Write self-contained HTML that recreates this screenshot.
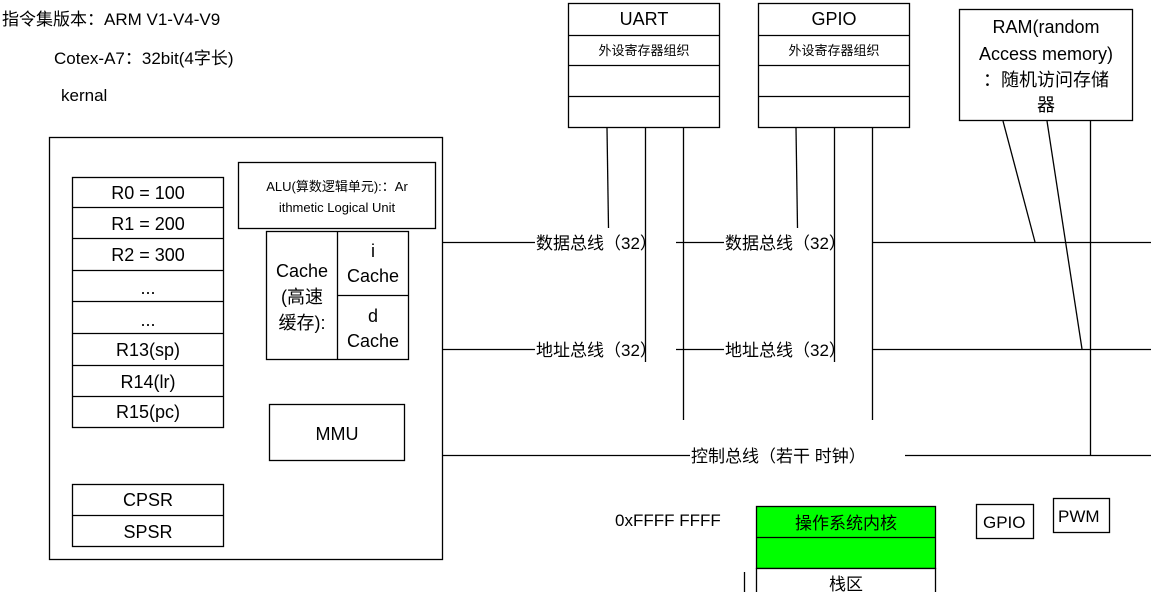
<!DOCTYPE html>
<html><head><meta charset="utf-8"><style>
html,body{margin:0;padding:0;background:#fff;}
svg{display:block;}
text{font-family:"Liberation Sans","Noto Sans CJK SC",sans-serif;fill:#000;}
</style></head><body>
<svg width="1151" height="592" viewBox="0 0 1151 592" xmlns="http://www.w3.org/2000/svg">
<g font-size="17">
<text x="2" y="25">指令集版本：ARM V1-V4-V9</text>
<text x="54" y="64">Cotex-A7：32bit(4字长)</text>
<text x="61" y="101">kernal</text>
</g>
<g fill="none" stroke="#000" stroke-width="1.3">
<rect x="49.5" y="137.5" width="393" height="422"/>
<rect x="72.5" y="177.5" width="151" height="250"/>
<line x1="72" y1="207.5" x2="224" y2="207.5"/>
<line x1="72" y1="238.5" x2="224" y2="238.5"/>
<line x1="72" y1="270.5" x2="224" y2="270.5"/>
<line x1="72" y1="301.5" x2="224" y2="301.5"/>
<line x1="72" y1="333.5" x2="224" y2="333.5"/>
<line x1="72" y1="365.5" x2="224" y2="365.5"/>
<line x1="72" y1="396.5" x2="224" y2="396.5"/>
<rect x="238.5" y="162.5" width="197" height="66"/>
<rect x="266.5" y="231.5" width="142" height="128"/>
<line x1="337.5" y1="231" x2="337.5" y2="360"/>
<line x1="337" y1="295.5" x2="409" y2="295.5"/>
<rect x="269.5" y="404.5" width="135" height="56"/>
<rect x="72.5" y="484.5" width="151" height="62"/>
<line x1="72" y1="515.5" x2="224" y2="515.5"/>
<rect x="568.5" y="3.5" width="151" height="124"/>
<line x1="568" y1="35.5" x2="720" y2="35.5"/>
<line x1="568" y1="65.5" x2="720" y2="65.5"/>
<line x1="568" y1="96.5" x2="720" y2="96.5"/>
<rect x="758.5" y="3.5" width="151" height="124"/>
<line x1="758" y1="35.5" x2="910" y2="35.5"/>
<line x1="758" y1="65.5" x2="910" y2="65.5"/>
<line x1="758" y1="96.5" x2="910" y2="96.5"/>
<rect x="959.5" y="9.5" width="173" height="111"/>
<!-- buses -->
<line x1="443" y1="242.5" x2="535" y2="242.5"/>
<line x1="676" y1="242.5" x2="724" y2="242.5"/>
<line x1="873" y1="242.5" x2="1151" y2="242.5"/>
<line x1="443" y1="349.5" x2="535" y2="349.5"/>
<line x1="676" y1="349.5" x2="724" y2="349.5"/>
<line x1="873" y1="349.5" x2="1151" y2="349.5"/>
<line x1="443" y1="455.5" x2="690" y2="455.5"/>
<line x1="905" y1="455.5" x2="1151" y2="455.5"/>
<line x1="607" y1="128" x2="608.5" y2="228"/>
<line x1="645.5" y1="128" x2="645.5" y2="362"/>
<line x1="683.5" y1="128" x2="683.5" y2="420"/>
<line x1="796" y1="128" x2="797.5" y2="228"/>
<line x1="834.5" y1="128" x2="834.5" y2="362"/>
<line x1="872.5" y1="128" x2="872.5" y2="420"/>
<line x1="1003" y1="121" x2="1035" y2="242"/>
<line x1="1047" y1="121" x2="1082" y2="349"/>
<line x1="1090.5" y1="121" x2="1090.5" y2="455"/>
<rect x="976.5" y="504.5" width="57" height="34"/>
<rect x="1053.5" y="498.5" width="56" height="34"/>
<line x1="744.5" y1="572" x2="744.5" y2="592"/>
</g>
<rect x="756.5" y="506.5" width="179" height="62" fill="#00ff00" stroke="#000" stroke-width="1.3"/>
<line x1="756" y1="537.5" x2="936" y2="537.5" stroke="#000" stroke-width="1.3"/>
<rect x="756.5" y="568.5" width="179" height="30" fill="#fff" stroke="#000" stroke-width="1.3"/>
<g font-size="18" text-anchor="middle">
<text x="148" y="199">R0 = 100</text>
<text x="148" y="230">R1 = 200</text>
<text x="148" y="261">R2 = 300</text>
<text x="148" y="294">...</text>
<text x="148" y="326">...</text>
<text x="148" y="356">R13(sp)</text>
<text x="148" y="388">R14(lr)</text>
<text x="148" y="418">R15(pc)</text>
<text x="148" y="506">CPSR</text>
<text x="148" y="538">SPSR</text>
<text x="337" y="440">MMU</text>
<text x="302" y="277">Cache</text>
<text x="302" y="303">(高速</text>
<text x="302" y="329">缓存):</text>
<text x="373" y="257">i</text>
<text x="373" y="282">Cache</text>
<text x="373" y="322">d</text>
<text x="373" y="347">Cache</text>
<text x="644" y="25">UART</text>
<text x="834" y="25">GPIO</text>
<text x="1046" y="33">RAM(random</text>
<text x="1046" y="60">Access memory)</text>
<text x="1046" y="86">：随机访问存储</text>
<text x="1046" y="111">器</text>
</g>
<g font-size="13" text-anchor="middle">
<text x="337" y="191">ALU(算数逻辑单元):：Ar</text>
<text x="337" y="212">ithmetic Logical Unit</text>
<text x="644" y="55" fill="#555">外设寄存器组织</text>
<text x="834" y="55" fill="#555">外设寄存器组织</text>
</g>
<g font-size="17">
<text x="536" y="249">数据总线（32）</text>
<text x="725" y="249">数据总线（32）</text>
<text x="536" y="356">地址总线（32）</text>
<text x="725" y="356">地址总线（32）</text>
<text x="691" y="462">控制总线（若干 时钟）</text>
<text x="615" y="526">0xFFFF FFFF</text>
<text x="846" y="529" text-anchor="middle">操作系统内核</text>
<text x="846" y="590" text-anchor="middle">栈区</text>
<text x="983" y="528">GPIO</text>
<text x="1058" y="522">PWM</text>
</g>
</svg>
</body></html>
